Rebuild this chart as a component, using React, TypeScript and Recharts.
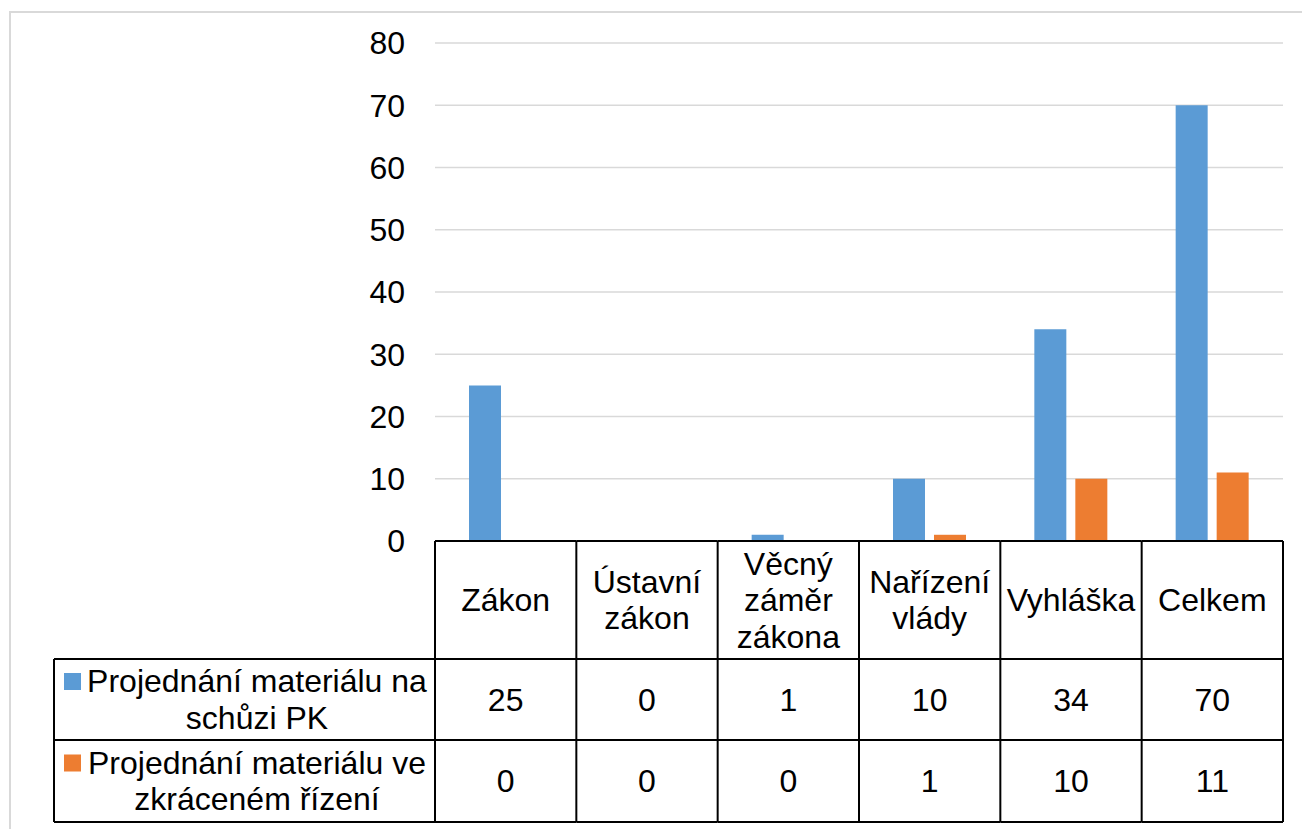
import React from 'react';
import { BarChart, Bar, XAxis, YAxis, CartesianGrid } from 'recharts';

// Data
const categories = ['Zákon', 'Ústavní zákon', 'Věcný záměr zákona', 'Nařízení vlády', 'Vyhláška', 'Celkem'];
const categoryLines = [['Zákon'], ['Ústavní', 'zákon'], ['Věcný', 'záměr', 'zákona'], ['Nařízení', 'vlády'], ['Vyhláška'], ['Celkem']];
const pkValues = [25, 0, 1, 10, 34, 70];
const shortValues = [0, 0, 0, 1, 10, 11];
const seriesLabels = [
    ['Projednání materiálu na', 'schůzi PK'],
    ['Projednání materiálu ve', 'zkráceném řízení'],
];
const yTicks = [0, 10, 20, 30, 40, 50, 60, 70, 80];

const BLUE = '#5B9BD5';
const ORANGE = '#ED7D31';
const seriesColors = [BLUE, ORANGE];
const seriesValues = [pkValues, shortValues];

const chartData = categories.map((name, i) => ({ name, pk: pkValues[i], short: shortValues[i] }));

// Layout
const W = 1302;
const H = 829;
const PLOT_L = 435;
const PLOT_R = 1283;
const PLOT_T = 43;
const PLOT_B = 541;
const Y_W = 60;
const ROW1 = 659;
const ROW2 = 740;
const ROW3 = 822;
const LEG_L = 54;
const BAND = (PLOT_R - PLOT_L) / categories.length;
const FONT = '"Liberation Sans", Arial, sans-serif';
const FS = 32;
const LH = 36.5;

const line = { stroke: '#000', strokeWidth: 2 };

// Data table drawn under each category tick
function TableTick(props: any) {
    const { x, y, index } = props;
    const l = x - BAND / 2;
    const r = x + BAND / 2;
    const top = y;
    const lines = categoryLines[index] || [];
    const hc = (top + ROW1) / 2;
    const rowCenters = [(ROW1 + ROW2) / 2, (ROW2 + ROW3) / 2];
    const legR = l;
    const legTextX = 257;

    return (
        <g style={{ fontFamily: FONT, fontSize: FS }}>
            <line x1={l} y1={top} x2={r} y2={top} {...line} />
            <line x1={l} y1={ROW1} x2={r} y2={ROW1} {...line} />
            <line x1={l} y1={ROW2} x2={r} y2={ROW2} {...line} />
            <line x1={l} y1={ROW3} x2={r} y2={ROW3} {...line} />
            <line x1={l} y1={top} x2={l} y2={ROW3} {...line} />
            {index === categories.length - 1 && <line x1={r} y1={top} x2={r} y2={ROW3} {...line} />}
            {lines.map((t, k) => (
                <text key={k} x={x} y={hc + (k - (lines.length - 1) / 2) * LH} dy="0.35em" textAnchor="middle" fill="#000">
                    {t}
                </text>
            ))}
            {seriesValues.map((vals, s) => (
                <text key={s} x={x} y={rowCenters[s]} dy="0.35em" textAnchor="middle" fill="#000">
                    {vals[index]}
                </text>
            ))}
            {index === 0 && (
                <g>
                    <line x1={LEG_L} y1={ROW1} x2={legR} y2={ROW1} {...line} />
                    <line x1={LEG_L} y1={ROW2} x2={legR} y2={ROW2} {...line} />
                    <line x1={LEG_L} y1={ROW3} x2={legR} y2={ROW3} {...line} />
                    <line x1={LEG_L} y1={ROW1} x2={LEG_L} y2={ROW3} {...line} />
                    {seriesLabels.map((lbl, s) => (
                        <g key={s}>
                            <rect x={64} y={rowCenters[s] - 26.5} width={17} height={17} fill={seriesColors[s]} />
                            {lbl.map((t, k) => (
                                <text key={k} x={legTextX} y={rowCenters[s] + (k - 0.5) * LH} dy="0.35em" textAnchor="middle" fill="#000">
                                    {t}
                                </text>
                            ))}
                        </g>
                    ))}
                </g>
            )}
        </g>
    );
}

export default function App() {
    return (
        <div style={{ position: 'absolute', left: 0, top: 0, width: W, height: H, background: '#fff', overflow: 'hidden' }}>
            <div style={{ position: 'absolute', left: 9, top: 11, width: W, height: H, border: '2px solid #d9d9d9', boxSizing: 'border-box' }} />
            <div style={{ position: 'absolute', left: 0, top: 0 }}>
                <BarChart
                    width={W}
                    height={H}
                    data={chartData}
                    margin={{ top: PLOT_T, right: W - PLOT_R, left: PLOT_L - Y_W, bottom: 0 }}
                    barSize={32}
                    barGap={9}
                >
                    <CartesianGrid vertical={false} stroke="#d9d9d9" strokeWidth={1.5} />
                    <YAxis
                        type="number"
                        domain={[0, 80]}
                        ticks={yTicks}
                        interval={0}
                        width={Y_W}
                        axisLine={false}
                        tickLine={false}
                        tickSize={0}
                        tickMargin={30}
                        tick={{ fill: '#000', fontSize: FS, fontFamily: FONT }}
                    />
                    <XAxis
                        dataKey="name"
                        interval={0}
                        height={H - PLOT_B}
                        axisLine={false}
                        tickLine={false}
                        tickSize={0}
                        tickMargin={0}
                        tick={TableTick}
                    />
                    <Bar dataKey="pk" fill={BLUE} isAnimationActive={false} />
                    <Bar dataKey="short" fill={ORANGE} isAnimationActive={false} />
                </BarChart>
            </div>
        </div>
    );
}
